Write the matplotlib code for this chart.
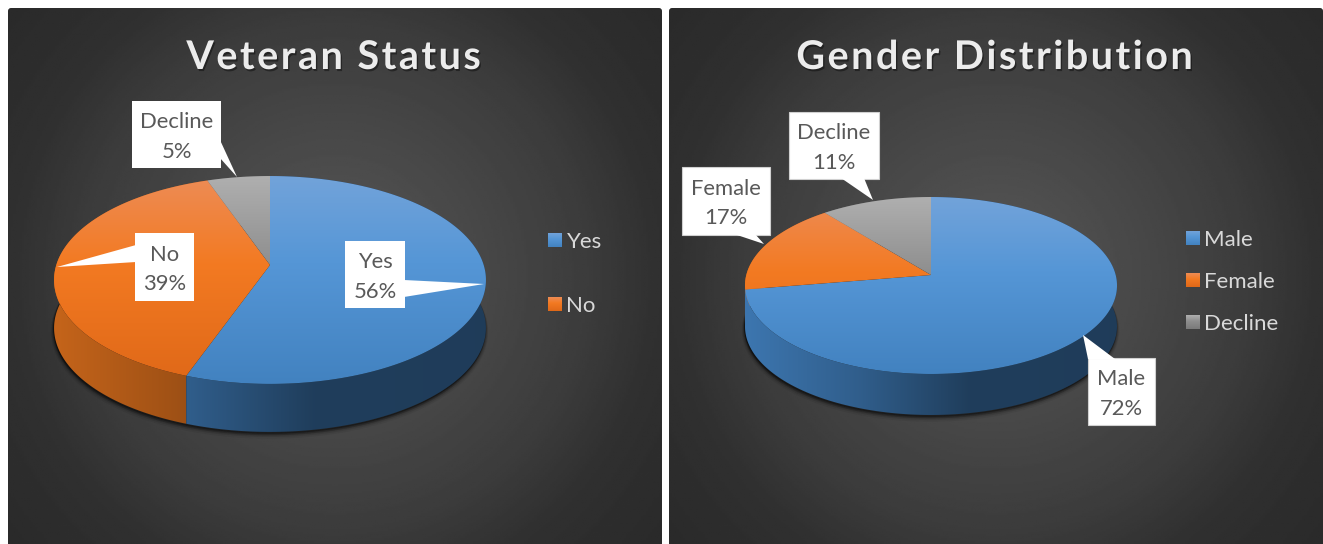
import numpy as np
import matplotlib
matplotlib.use("Agg")
import matplotlib.pyplot as plt
from matplotlib.patches import Polygon, FancyBboxPatch
import matplotlib.patheffects as pe

plt.rcParams['font.family'] = ['Lato', 'DejaVu Sans']

# ---------- data ----------
veteran_title = "Veteran Status"
veteran_labels = ["Yes", "No", "Decline"]
veteran_values = [55.5, 39.1, 5.4]
veteran_legend = ["Yes", "No"]

gender_title = "Gender Distribution"
gender_labels = ["Male", "Female", "Decline"]
gender_values = [72.4, 16.8, 10.8]
gender_legend = ["Male", "Female", "Decline"]

# ---------- colours ----------
TOP_STOPS = {
    "blue": ["#72a3da", "#5596d6", "#4282c0"],
    "orange": ["#ed8c56", "#f37a22", "#df6818"],
    "gray": ["#afafaf", "#8f8f8f", "#7a7a7a"],
}
TOP_POS = [0, 0.42, 1]
WALL_BASE = {"blue": "#4a90d6", "orange": "#f07a20", "gray": "#9a9a9a"}
COLOR_OF = {"Yes": "blue", "Male": "blue", "No": "orange", "Female": "orange", "Decline": "gray"}
TEXT_GRAY = "#595959"


def rgb(c):
    return np.array(matplotlib.colors.to_rgb(c))


def gradient_fill(ax, xy, extent, pos, colors, horizontal=False, z=2):
    # gradient image clipped to a polygon, extent = x0, x1, y0, y1
    t = np.linspace(0, 1, 256)
    arr = np.stack([np.interp(t, pos, [rgb(c)[i] for c in colors]) for i in range(3)], axis=-1)
    arr = arr[None, :, :] if horizontal else arr[:, None, :]
    x0, x1, y0, y1 = extent
    im = ax.imshow(arr, extent=(x0, x1, y1, y0), origin="upper", aspect="auto", zorder=z, interpolation="bilinear")
    im.set_clip_path(Polygon(xy, closed=True, transform=ax.transData))


def panel(ax, x0, x1, y0, y1):
    cx, cy = (x0 + x1) / 2, (y0 + y1) / 2
    yy, xx = np.mgrid[y0:y1:300j, x0:x1:300j]
    r = np.hypot(xx - cx, yy - cy) / np.hypot(x1 - cx, y1 - cy)
    lev = np.interp(r, [0, 0.6, 0.77, 1], [0x58, 0x3c, 0x30, 0x2a]) / 255
    im = ax.imshow(lev, extent=(x0, x1, y1, y0), cmap="gray", vmin=0, vmax=1, aspect="auto", zorder=1)
    box = FancyBboxPatch((x0 + 3, y0 + 3), x1 - x0 - 6, y1 - y0 + 20, boxstyle="round,pad=3",
                         transform=ax.transData, fc="none", ec="none")
    ax.add_patch(box)
    im.set_clip_path(box)


def project(theta, cx, cy, bx, ay, c):
    # theta clockwise from top on a unit circle, seen in perspective
    X = np.sin(theta)
    Y = -np.cos(theta)
    d = 1 + c * Y
    return cx + bx * X / d, cy + ay * Y / d


def draw_pie(ax, values, labels, cx, cy, bx, ay, c, depth):
    frac = np.array(values, dtype=float) / sum(values)
    edges = np.concatenate([[0], np.cumsum(frac)]) * 2 * np.pi
    rim_x, rim_y = project(np.linspace(0, 2 * np.pi, 400), cx, cy, bx, ay, c)
    left, right, top, bottom = rim_x.min(), rim_x.max(), rim_y.min(), rim_y.max()

    # soft shadow under the side wall
    for grow, alpha in zip([4, 3, 2, 1, 0], [0.06, 0.1, 0.15, 0.2, 0.3]):
        ax.fill(rim_x - 0.5, rim_y + depth + grow, color="black", alpha=alpha, lw=grow, zorder=3)

    # a slice edge just short of the left silhouette would leave a sliver of wall
    th_left = 2 * np.pi - np.arccos(c)
    wall_edges = np.where(np.abs(edges - th_left) < np.radians(6), th_left + np.radians(1), edges)

    # side walls, first slice last so it stays on top
    for i in reversed(range(len(labels))):
        th = np.linspace(wall_edges[i], wall_edges[i + 1], 200)
        x, y = project(th, cx, cy, bx, ay, c)
        wall = np.column_stack([np.r_[x, x[::-1]], np.r_[y, y[::-1] + depth]])
        base = rgb(WALL_BASE[COLOR_OF[labels[i]]])
        gradient_fill(ax, wall, (left, right, top, bottom + depth), [0, 0.31, 0.6, 1],
                      [base * f for f in (0.82, 0.65, 0.43, 0.42)], horizontal=True, z=4)
    for i, lab in enumerate(labels):
        th = np.linspace(edges[i], edges[i + 1], 200)
        x, y = project(th, cx, cy, bx, ay, c)
        top_xy = np.column_stack([np.r_[cx, x], np.r_[cy, y]])
        gradient_fill(ax, top_xy, (left, right, top, bottom), TOP_POS, TOP_STOPS[COLOR_OF[lab]], z=5)


def callout(ax, box, tip, base, text, edge="none"):
    x0, x1, y0, y1 = box
    ax.fill([x0, x1, x1, x0], [y0, y0, y1, y1], fc="white", ec=edge, lw=0.8, zorder=6)
    ax.fill([base[0][0], tip[0], base[1][0]], [base[0][1], tip[1], base[1][1]], fc="white", ec="none", zorder=7)
    ax.text((x0 + x1) / 2, (y0 + y1) / 2 + 2.5, text, ha="center", va="center", fontsize=15.8,
            color=TEXT_GRAY, linespacing=1.58, zorder=8)


def legend(ax, names, x, ys):
    for name, y in zip(names, ys):
        sq = [(x, y - 7), (x + 14, y - 7), (x + 14, y + 7), (x, y + 7)]
        gradient_fill(ax, sq, (x, x + 14, y - 7, y + 7), TOP_POS, TOP_STOPS[COLOR_OF[name]], z=5)
        ax.text(x + 18.5, y - 0.5, name, ha="left", va="center_baseline", fontsize=16, color="#d9d9d9", zorder=8)


def title(ax, text, x):
    spaced = "\u200a".join(text)
    ax.text(x, 57.5, spaced, ha="center", va="center", fontsize=28.5, fontweight="bold", color="#ececec", zorder=8,
            path_effects=[pe.withSimplePatchShadow(offset=(1, -1.5), shadow_rgbFace="black", alpha=0.4)])


fig = plt.figure(figsize=(13.23, 5.44), dpi=100, facecolor="white")
ax = fig.add_axes([0, 0, 1, 1])
ax.axis("off")

panel(ax, 8, 662, 8, 544)
panel(ax, 669, 1323, 8, 544)

# left chart
title(ax, veteran_title, 334)
draw_pie(ax, veteran_values, veteran_labels, 270, 265, 213.7, 101.8, -0.144, 48)
pct = [f"{v:.0f}%" for v in veteran_values]
callout(ax, (345, 405, 241, 308), (484, 284), [(404, 280), (404, 297)], f"Yes\n{pct[0]}")
callout(ax, (135, 193.5, 233, 300.5), (57, 267), [(136, 245), (136, 262)], f"No\n{pct[1]}")
callout(ax, (132, 221, 101, 168), (237, 177), [(220, 140), (220, 158)], f"Decline\n{pct[2]}")
legend(ax, veteran_legend, 548, [240, 304])

# right chart
title(ax, gender_title, 995)
draw_pie(ax, gender_values, gender_labels, 931, 275, 184.7, 87.25, -0.1186, 41)
pct = [f"{v:.0f}%" for v in gender_values]
callout(ax, (1088, 1155, 358, 425), (1083, 335), [(1088, 359), (1115, 359)], f"Male\n{pct[0]}", edge="#d0d0d0")
callout(ax, (682, 770, 167, 235), (764, 244), [(734, 234), (755, 234)], f"Female\n{pct[1]}", edge="#d0d0d0")
callout(ax, (789, 879, 112, 179), (873, 200), [(841, 178), (864, 178)], f"Decline\n{pct[2]}", edge="#d0d0d0")
legend(ax, gender_legend, 1186, [238, 280, 322])

ax.set_xlim(0, 1323)
ax.set_ylim(544, 0)

fig.savefig("out.png", dpi=100)
